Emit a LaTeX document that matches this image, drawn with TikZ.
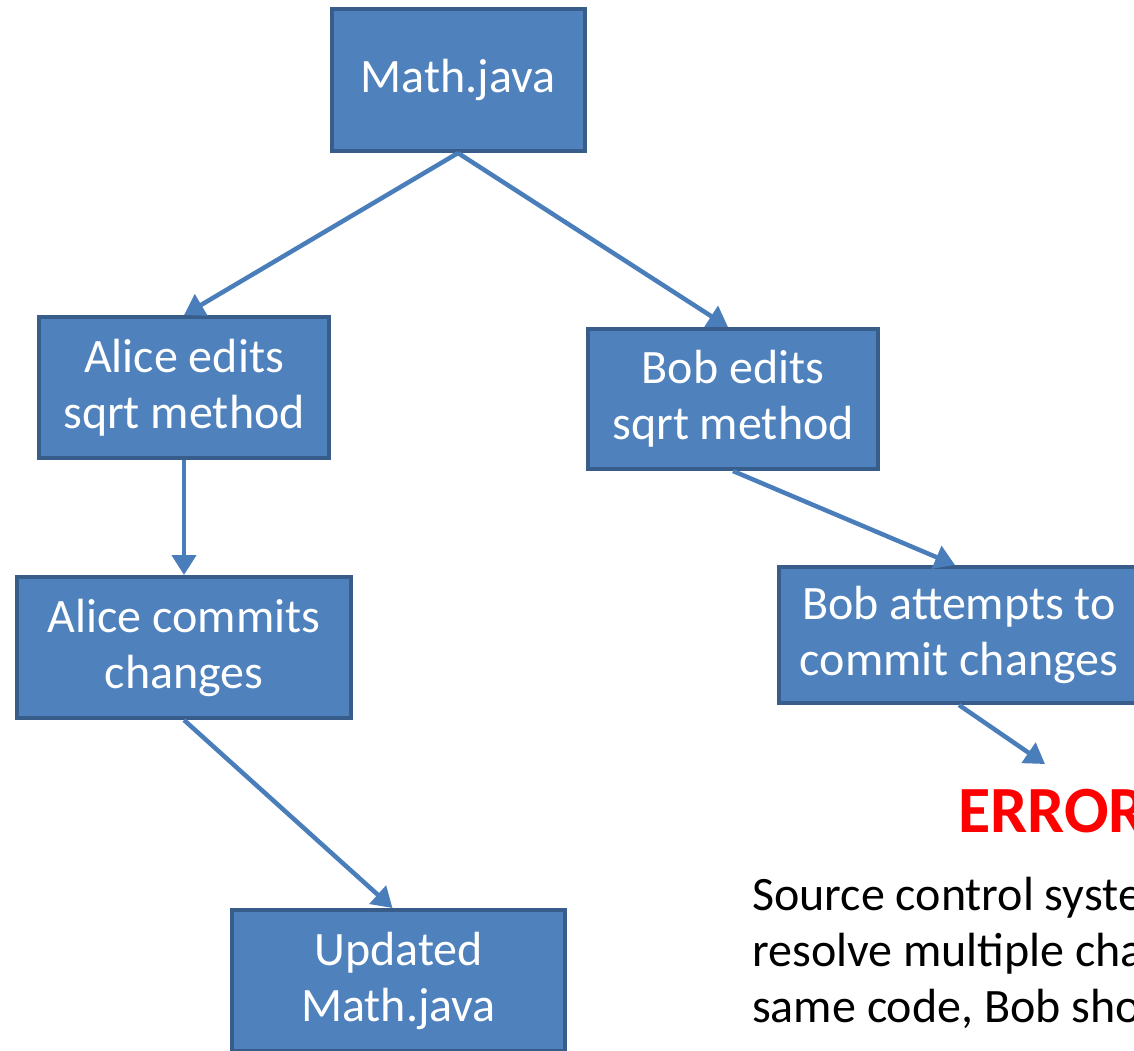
\documentclass[tikz,border=0pt]{standalone}
\usepackage{fontspec}
\setmainfont{Carlito}
\usetikzlibrary{arrows.meta}
\definecolor{boxfill}{HTML}{4F81BD}
\definecolor{boxdraw}{HTML}{385D8A}
\definecolor{arr}{HTML}{4A7EBB}
\definecolor{errred}{HTML}{FF0000}
\begin{document}
\begin{tikzpicture}[x=1pt,y=-1pt,
  box/.style={draw=boxdraw,fill=boxfill,line width=4pt,text=white,align=center,
    font=\fontsize{48}{56}\selectfont,inner sep=0pt},
  conn/.style={draw=arr,line width=4.5pt,-{Triangle[length=20pt,width=24pt]}},
  note/.style={anchor=base west,inner sep=0pt,font=\fontsize{48}{56}\selectfont}]
\useasboundingbox (0,0) rectangle (1134,1050);
\clip (0,0) rectangle (1134,1050);
\node[box,minimum width=253pt,minimum height=142pt] (math) at (458,80) {Math.java};
\node[box,minimum width=290pt,minimum height=141pt] (alice) at (184,387.5) {Alice edits\\sqrt method};
\node[box,minimum width=290pt,minimum height=140pt] (bob) at (733,399) {Bob edits\\sqrt method};
\node[box,minimum width=334pt,minimum height=141pt] (alicec) at (184,647.5) {Alice commits\\changes};
\node[box,minimum width=360pt,minimum height=136pt] (bobc) at (959,635) {Bob attempts to\\commit changes};
\node[box,minimum width=333pt,minimum height=141pt] (upd) at (398.5,980.5) {Updated\\Math.java};
\node[text=errred,font=\fontsize{66}{72}\selectfont\bfseries,inner sep=0pt] (error) at (1052,811) {ERROR};
\coordinate (errtip) at (1045,764);
\node[note] (n1) at (752,910) {Source control system cannot};
\node[note] (n2) at (752,966) {resolve multiple changes to};
\node[note] (n3) at (752,1022) {same code, Bob should merge};
\draw[conn] (math.south) -- (alice.north);
\draw[conn] (math.south) -- ([xshift=-5pt]bob.north);
\draw[conn] (alice.south) -- (alicec.north);
\draw[conn] (bob.south) -- ([xshift=-4pt]bobc.north);
\draw[conn] (bobc.south) -- (errtip);
\draw[conn] (alicec.south) -- ([xshift=-6pt]upd.north);
\end{tikzpicture}
\end{document}
